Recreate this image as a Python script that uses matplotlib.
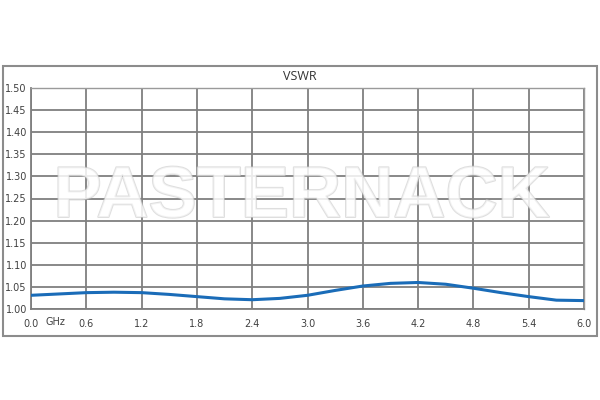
import matplotlib.pyplot as plt
import matplotlib.patheffects as pe
from matplotlib.patches import Rectangle

# VSWR vs frequency (GHz)
freq = [0.0, 0.3, 0.6, 0.9, 1.2, 1.5, 1.8, 2.1, 2.4, 2.7, 3.0, 3.3, 3.6, 3.9, 4.2, 4.5, 4.8, 5.1, 5.4, 5.7, 6.0]
vswr = [1.031, 1.034, 1.037, 1.038, 1.037, 1.033, 1.028, 1.023, 1.021, 1.024, 1.031, 1.042, 1.052, 1.058, 1.060, 1.056, 1.047, 1.037, 1.028, 1.020, 1.019]

x_ticks = [0.0, 0.6, 1.2, 1.8, 2.4, 3.0, 3.6, 4.2, 4.8, 5.4, 6.0]
y_ticks = [1.00, 1.05, 1.10, 1.15, 1.20, 1.25, 1.30, 1.35, 1.40, 1.45, 1.50]

fig = plt.figure(figsize=(6, 4), dpi=100)
fig.patch.set_facecolor('white')

# outer frame of the chart
fig.patches.append(Rectangle((3 / 600, 1 - 336 / 400), 594 / 600, 270 / 400,
                             transform=fig.transFigure, fill=False,
                             edgecolor='#8c8c8c', linewidth=1.5))

ax = fig.add_axes([31 / 600, 1 - 309 / 400, 553 / 600, 221 / 400])
ax.set_xlim(0, 6.0)
ax.set_ylim(1.0, 1.5)
ax.set_xticks(x_ticks)
ax.set_yticks(y_ticks)
ax.set_xticklabels(['%.1f' % v for v in x_ticks], fontsize=7, color='#404040',
                   family='DejaVu Sans')
ax.set_yticklabels(['%.2f' % v for v in y_ticks], fontsize=7, color='#404040',
                   family='DejaVu Sans')
ax.tick_params(length=0, pad=7)
ax.tick_params(axis='y', pad=3)
ax.grid(True, color='#7f7f7f', linewidth=1.3)
ax.set_axisbelow(True)
for s in ['top', 'right']:
    ax.spines[s].set_color('#9a9a9a')
    ax.spines[s].set_linewidth(1.0)
for s in ['left', 'bottom']:
    ax.spines[s].set_color('#7f7f7f')
    ax.spines[s].set_linewidth(1.3)

ax.plot(freq, vswr, color='#1a6cb8', linewidth=2.2, zorder=3)

ax.text(0.26, -0.038, 'GHz', transform=ax.get_xaxis_transform(), fontsize=7,
        color='#404040', ha='center', va='top', family='DejaVu Sans')
fig.text(0.5, 1 - 76 / 400, 'VSWR', ha='center', va='center', fontsize=9,
         color='#333333', family='Open Sans')

# watermark
wm = fig.text(0.503, 1 - 198 / 400, 'PASTERNACK', ha='center', va='center',
              fontsize=52, fontweight='bold', family='Liberation Sans',
              color='white', alpha=0.6, zorder=5)
wm.set_path_effects([pe.withStroke(linewidth=1.4, foreground='#c8c8c8')])

fig.savefig('out.png', dpi=100)
